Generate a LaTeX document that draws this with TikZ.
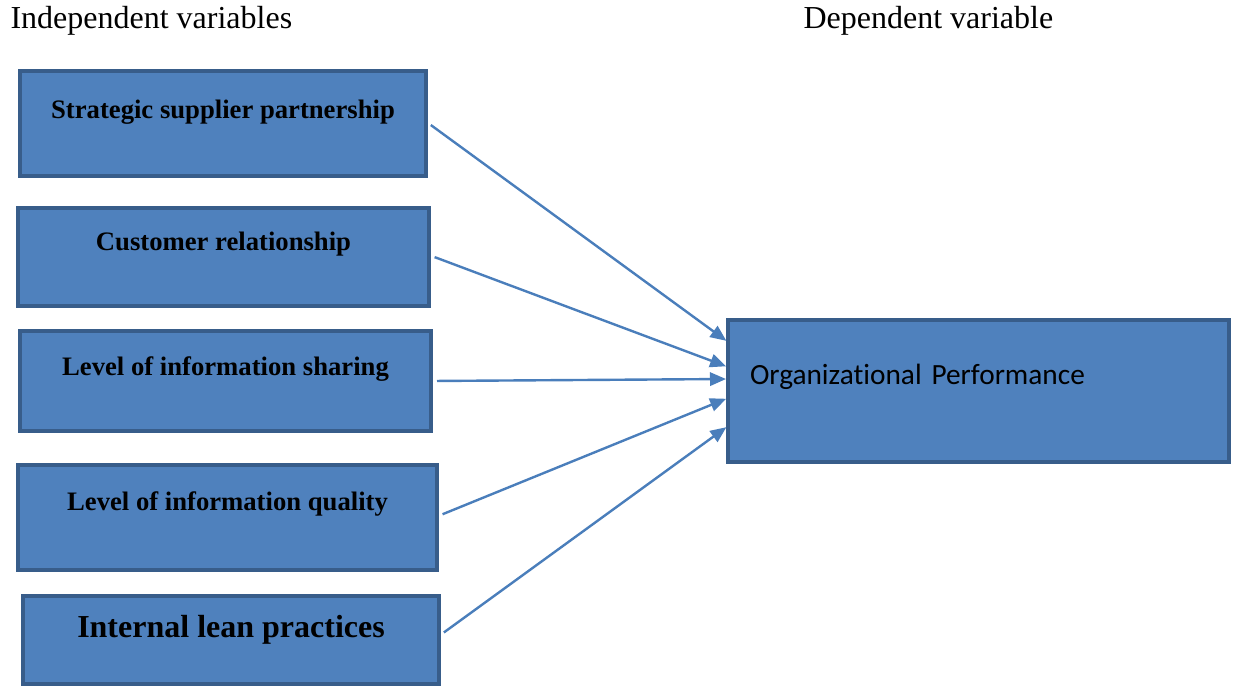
\documentclass[tikz,border=0pt]{standalone}
\usepackage{fontspec}
\setmainfont{Liberation Serif}
\newfontfamily\orgfont[Ligatures=NoCommon]{Carlito}
\usepackage{tikz}
\usetikzlibrary{arrows.meta}
\definecolor{boxfill}{HTML}{4F81BD}
\definecolor{boxline}{HTML}{385D8A}
\definecolor{linkblue}{HTML}{4A7EBB}
\newcommand{\pxu}{0.375pt}
\tikzset{
    varbox/.style={draw=boxline, fill=boxfill, line width=1.5pt, anchor=north west,
        inner sep=0pt, outer sep=0pt, font=\bfseries},
    link/.style={->, draw=linkblue, line width=0.9pt, shorten <=2.25pt, shorten >=0.75pt},
    heading/.style={anchor=base west, inner sep=0pt, font=\large}}

\begin{document}
\begin{tikzpicture}[x=\pxu, y=-\pxu, >={Triangle[length=6pt,width=5pt]}]
\useasboundingbox (0,0) rectangle (1233,686);

            \node[heading] (indep) at (10,28) {Independent variables};
            \node[heading] (dep) at (803,28) {Dependent variable};

            \node[varbox, minimum width=406*\pxu, text height=47*\pxu, text depth=58*\pxu] (ssp) at (20,71) {Strategic supplier partnership};
            \node[varbox, minimum width=411*\pxu, text height=42*\pxu, text depth=56*\pxu] (cust) at (18,208) {Customer relationship};
            \node[varbox, minimum width=411*\pxu, text height=44*\pxu, text depth=56*\pxu] (share) at (20,331) {Level of information sharing};
            \node[varbox, minimum width=419*\pxu, text height=45*\pxu, text depth=60*\pxu] (qual) at (18,465) {Level of information quality};
            \node[varbox, minimum width=416*\pxu, text height=41*\pxu, text depth=47*\pxu, font=\bfseries\large] (lean) at (23,596) {Internal lean practices};

            \node[varbox, font=\orgfont\fontsize{11}{13}\selectfont, inner xsep=22*\pxu, text width=457*\pxu, align=left, text height=64*\pxu, text depth=78*\pxu] (perf) at (728,320) {Organizational Performance};

            \draw[link] ([yshift=2*\pxu]ssp.east) -- ([yshift=49*\pxu]perf.west);
            \draw[link] ([yshift=2*\pxu]cust.east) -- ([yshift=24*\pxu]perf.west);
            \draw[link] (share.east) -- ([yshift=12*\pxu]perf.west);
            \draw[link] ([yshift=1*\pxu]qual.east) -- ([yshift=-7*\pxu]perf.west);
            \draw[link] ([yshift=4*\pxu]lean.east) -- ([yshift=-35*\pxu]perf.west);

        \end{tikzpicture}
\end{document}
